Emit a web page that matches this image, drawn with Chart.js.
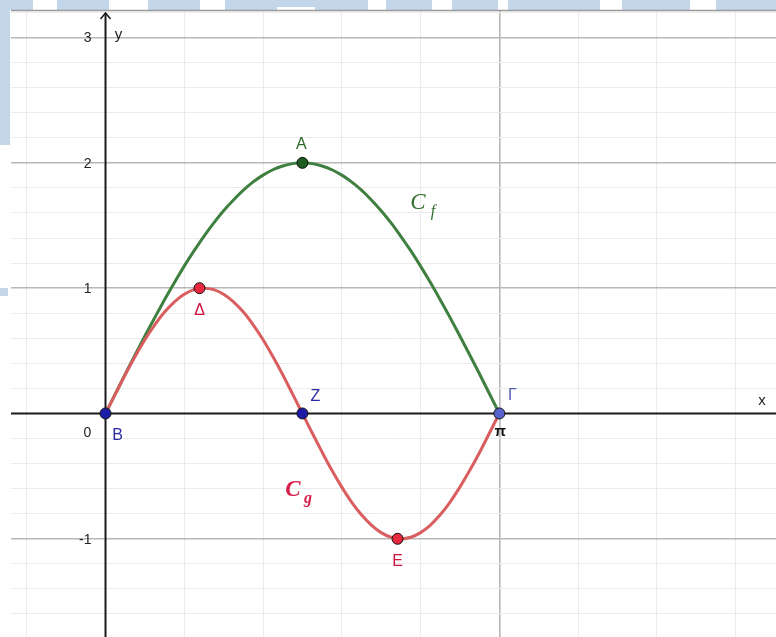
<!DOCTYPE html>
<html>
<head>
<meta charset="utf-8">
<style>
html,body{margin:0;padding:0;background:#fff;}
canvas{display:block;}
</style>
<script src="https://cdn.jsdelivr.net/npm/chart.js@4.4.0/dist/chart.umd.min.js"></script>
</head>
<body>
<canvas id="c" width="776" height="637"></canvas>
<script>
// ---------- data ----------
const xValues = [0, 0.079, 0.157, 0.236, 0.314, 0.393, 0.471, 0.550, 0.628, 0.707, 0.785,
                 0.864, 0.942, 1.021, 1.100, 1.178, 1.257, 1.335, 1.414, 1.492, 1.571,
                 1.649, 1.728, 1.806, 1.885, 1.963, 2.042, 2.121, 2.199, 2.278, 2.356,
                 2.435, 2.513, 2.592, 2.670, 2.749, 2.827, 2.906, 2.985, 3.063, 3.142];
const fValues = [0, 0.157, 0.313, 0.467, 0.618, 0.765, 0.908, 1.045, 1.176, 1.299, 1.414,
                 1.521, 1.618, 1.704, 1.782, 1.848, 1.902, 1.945, 1.975, 1.994, 2.000,
                 1.994, 1.975, 1.945, 1.902, 1.848, 1.782, 1.704, 1.618, 1.521, 1.414,
                 1.299, 1.176, 1.045, 0.908, 0.765, 0.618, 0.467, 0.313, 0.157, 0];
const gValues = [0, 0.156, 0.309, 0.454, 0.588, 0.707, 0.809, 0.891, 0.951, 0.988, 1.000,
                 0.988, 0.951, 0.891, 0.809, 0.707, 0.588, 0.454, 0.309, 0.156, 0,
                 -0.156, -0.309, -0.454, -0.588, -0.707, -0.809, -0.891, -0.951, -0.988, -1.000,
                 -0.988, -0.951, -0.891, -0.809, -0.707, -0.588, -0.454, -0.309, -0.156, 0];

const pointNames = ['A', 'Δ', 'B', 'Z', 'Γ', 'E'];
const pointX = [1.571, 0.75, 0, 1.571, 3.142, 2.33];
const pointY = [2, 1, 0, 0, 0, -1];

const curveNames = ['C', 'C'];
const curveSubs = ['f', 'g'];

const xGridValues = [-0.628, 0, 0.628, 1.257, 1.885, 2.513, 3.142, 3.770, 4.398, 5.027];
const xMajorValues = [0, 3.142];
const xTickValues = [3.142];
const xTickTexts = ['π'];

const yGridValues = [-1.6, -1.4, -1.2, -1, -0.8, -0.6, -0.4, -0.2, 0, 0.2, 0.4, 0.6, 0.8, 1,
                     1.2, 1.4, 1.6, 1.8, 2, 2.2, 2.4, 2.6, 2.8, 3, 3.2];
const yMajorValues = [-1, 0, 1, 2, 3];
const yTickValues = [3, 2, 1, -1];
const yTickTexts = ['3', '2', '1', '-1'];

const axisNames = ['x', 'y'];
const originText = '0';

// ---------- styles ----------
const GREEN = '#3f7f3f';
const RED = '#da5e60';
const pointFill = ['#1f5c1f', '#e8283c', '#1c1ca6', '#1c1ca6', '#5862cc', '#e8283c'];
const labelColor = ['#2a6a2a', '#d0153c', '#2c2ca0', '#2c2ca0', '#5560b0', '#d0153c'];
const labelOffset = [[-1, -18], [0, 22], [12, 22], [13, -17], [13, -18], [0, 23]];
const curveStyle = [
  {color: '#2e6e2e', x: 418, y: 203, weight: 'normal'},
  {color: '#d6204a', x: 293, y: 490, weight: 'bold'}
];
const SANS = '"Liberation Sans", Arial, sans-serif';
const SERIF = '"Liberation Serif", "DejaVu Serif", serif';

function near(v, list) { return list.some(t => Math.abs(t - v) < 1e-3); }
function gridColorFor(v, majors) {
  if (Math.abs(v) < 1e-6) return 'rgba(0,0,0,0)';
  return near(v, majors) ? '#b8b8b8' : '#ebebeb';
}
function gridWidthFor(v, majors) {
  return near(v, majors) ? 1.6 : 1;
}

const decor = {
  id: 'decor',
  beforeDraw(chart) {
    const ctx = chart.ctx;
    ctx.save();
    ctx.fillStyle = '#ffffff';
    ctx.fillRect(0, 0, chart.width, chart.height);
    // faint watermark pieces outside the plot area
    ctx.fillStyle = '#c4d6ea';
    const strips = [[0, 33], [57, 109], [148, 200], [225, 368], [386, 432], [452, 498], [508, 600], [622, 690], [716, 776]];
    strips.forEach(s => ctx.fillRect(s[0], 0, s[1] - s[0], 10));
    ctx.fillStyle = '#ffffff';
    ctx.fillRect(277, 7, 38, 3);
    ctx.fillStyle = '#c4d6ea';
    ctx.fillRect(0, 0, 10, 145);
    ctx.fillRect(0, 288, 8, 8);
    ctx.restore();
  },
  beforeDatasetsDraw(chart) {
    const ctx = chart.ctx;
    const a = chart.chartArea;
    const xs = chart.scales.x, ys = chart.scales.y;
    const x0 = xs.getPixelForValue(0), y0 = ys.getPixelForValue(0);
    ctx.save();
    // top frame line
    ctx.strokeStyle = '#9a9a9a';
    ctx.lineWidth = 1.5;
    ctx.beginPath(); ctx.moveTo(a.left, a.top - 0.5); ctx.lineTo(a.right, a.top - 0.5); ctx.stroke();
    // axes
    ctx.strokeStyle = '#1a1a1a';
    ctx.lineWidth = 2;
    ctx.beginPath(); ctx.moveTo(a.left, y0); ctx.lineTo(a.right, y0); ctx.stroke();
    ctx.beginPath(); ctx.moveTo(x0, a.top + 2); ctx.lineTo(x0, a.bottom); ctx.stroke();
    // arrow on y axis
    ctx.lineWidth = 1.5;
    ctx.beginPath();
    ctx.moveTo(x0 - 5, a.top + 8); ctx.lineTo(x0, a.top + 2); ctx.lineTo(x0 + 5, a.top + 8);
    ctx.stroke();
    // tick labels through the scales
    ctx.fillStyle = '#222';
    ctx.font = '14px ' + SANS;
    ctx.textAlign = 'right';
    ctx.textBaseline = 'middle';
    yTickValues.forEach((v, i) => ctx.fillText(yTickTexts[i], x0 - 14, ys.getPixelForValue(v) + 1));
    ctx.textAlign = 'center';
    ctx.fillStyle = '#111';
    ctx.font = 'bold 15px ' + SANS;
    xTickValues.forEach((v, i) => ctx.fillText(xTickTexts[i], xs.getPixelForValue(v) + 1, y0 + 18));
    // axis names and origin
    ctx.fillStyle = '#222';
    ctx.font = '15px ' + SANS;
    ctx.fillText(axisNames[1], x0 + 13, a.top + 24);
    ctx.fillText(axisNames[0], a.right - 14, y0 - 13);
    ctx.font = '14px ' + SANS;
    ctx.fillText(originText, x0 - 18, y0 + 20);
    ctx.restore();
  },
  afterDatasetsDraw(chart) {
    const ctx = chart.ctx;
    ctx.save();
    // point labels
    const meta = chart.getDatasetMeta(0);
    ctx.font = '16px ' + SANS;
    ctx.textAlign = 'center';
    ctx.textBaseline = 'middle';
    meta.data.forEach((el, i) => {
      ctx.fillStyle = labelColor[i];
      ctx.fillText(pointNames[i], el.x + labelOffset[i][0], el.y + labelOffset[i][1]);
    });
    // curve names
    curveStyle.forEach((s, i) => {
      ctx.fillStyle = s.color;
      ctx.font = 'italic ' + s.weight + ' 23px ' + SERIF;
      ctx.fillText(curveNames[i], s.x, s.y);
      ctx.font = 'italic ' + s.weight + ' 16px ' + SERIF;
      ctx.fillText(curveSubs[i], s.x + 15, s.y + 9);
    });
    ctx.restore();
  }
};

const toPts = (xs, ys) => xs.map((x, i) => ({x: x, y: ys[i]}));

new Chart(document.getElementById('c'), {
  type: 'scatter',
  data: {
    datasets: [
      {
        label: 'points',
        data: toPts(pointX, pointY),
        showLine: false,
        pointRadius: 5.5,
        pointBackgroundColor: pointFill,
        pointBorderColor: '#111',
        pointBorderWidth: 1
      },
      {
        label: 'g',
        data: toPts(xValues, gValues),
        showLine: true,
        borderColor: RED,
        borderWidth: 3,
        pointRadius: 0,
        cubicInterpolationMode: 'monotone',
        fill: false
      },
      {
        label: 'f',
        data: toPts(xValues, fValues),
        showLine: true,
        borderColor: GREEN,
        borderWidth: 3,
        pointRadius: 0,
        cubicInterpolationMode: 'monotone',
        fill: false
      }
    ]
  },
  options: {
    responsive: false,
    animation: false,
    devicePixelRatio: 1,
    layout: {autoPadding: false, padding: {left: 11, top: 11, right: 0, bottom: 0}},
    plugins: {legend: {display: false}, tooltip: {enabled: false}},
    scales: {
      x: {
        type: 'linear',
        min: -0.754,
        max: 5.349,
        position: {y: 0},
        afterBuildTicks: s => { s.ticks = xGridValues.map(v => ({value: v})); },
        grid: {
          color: c => gridColorFor(c.tick.value, xMajorValues),
          lineWidth: c => gridWidthFor(c.tick.value, xMajorValues),
          drawTicks: false
        },
        border: {display: false},
        ticks: {display: false}
      },
      y: {
        type: 'linear',
        min: -1.784,
        max: 3.212,
        position: {x: 0},
        afterBuildTicks: s => { s.ticks = yGridValues.map(v => ({value: v})); },
        grid: {
          color: c => gridColorFor(c.tick.value, yMajorValues),
          lineWidth: c => gridWidthFor(c.tick.value, yMajorValues),
          drawTicks: false
        },
        border: {display: false},
        ticks: {display: false}
      }
    }
  },
  plugins: [decor]
});
</script>
</body>
</html>
